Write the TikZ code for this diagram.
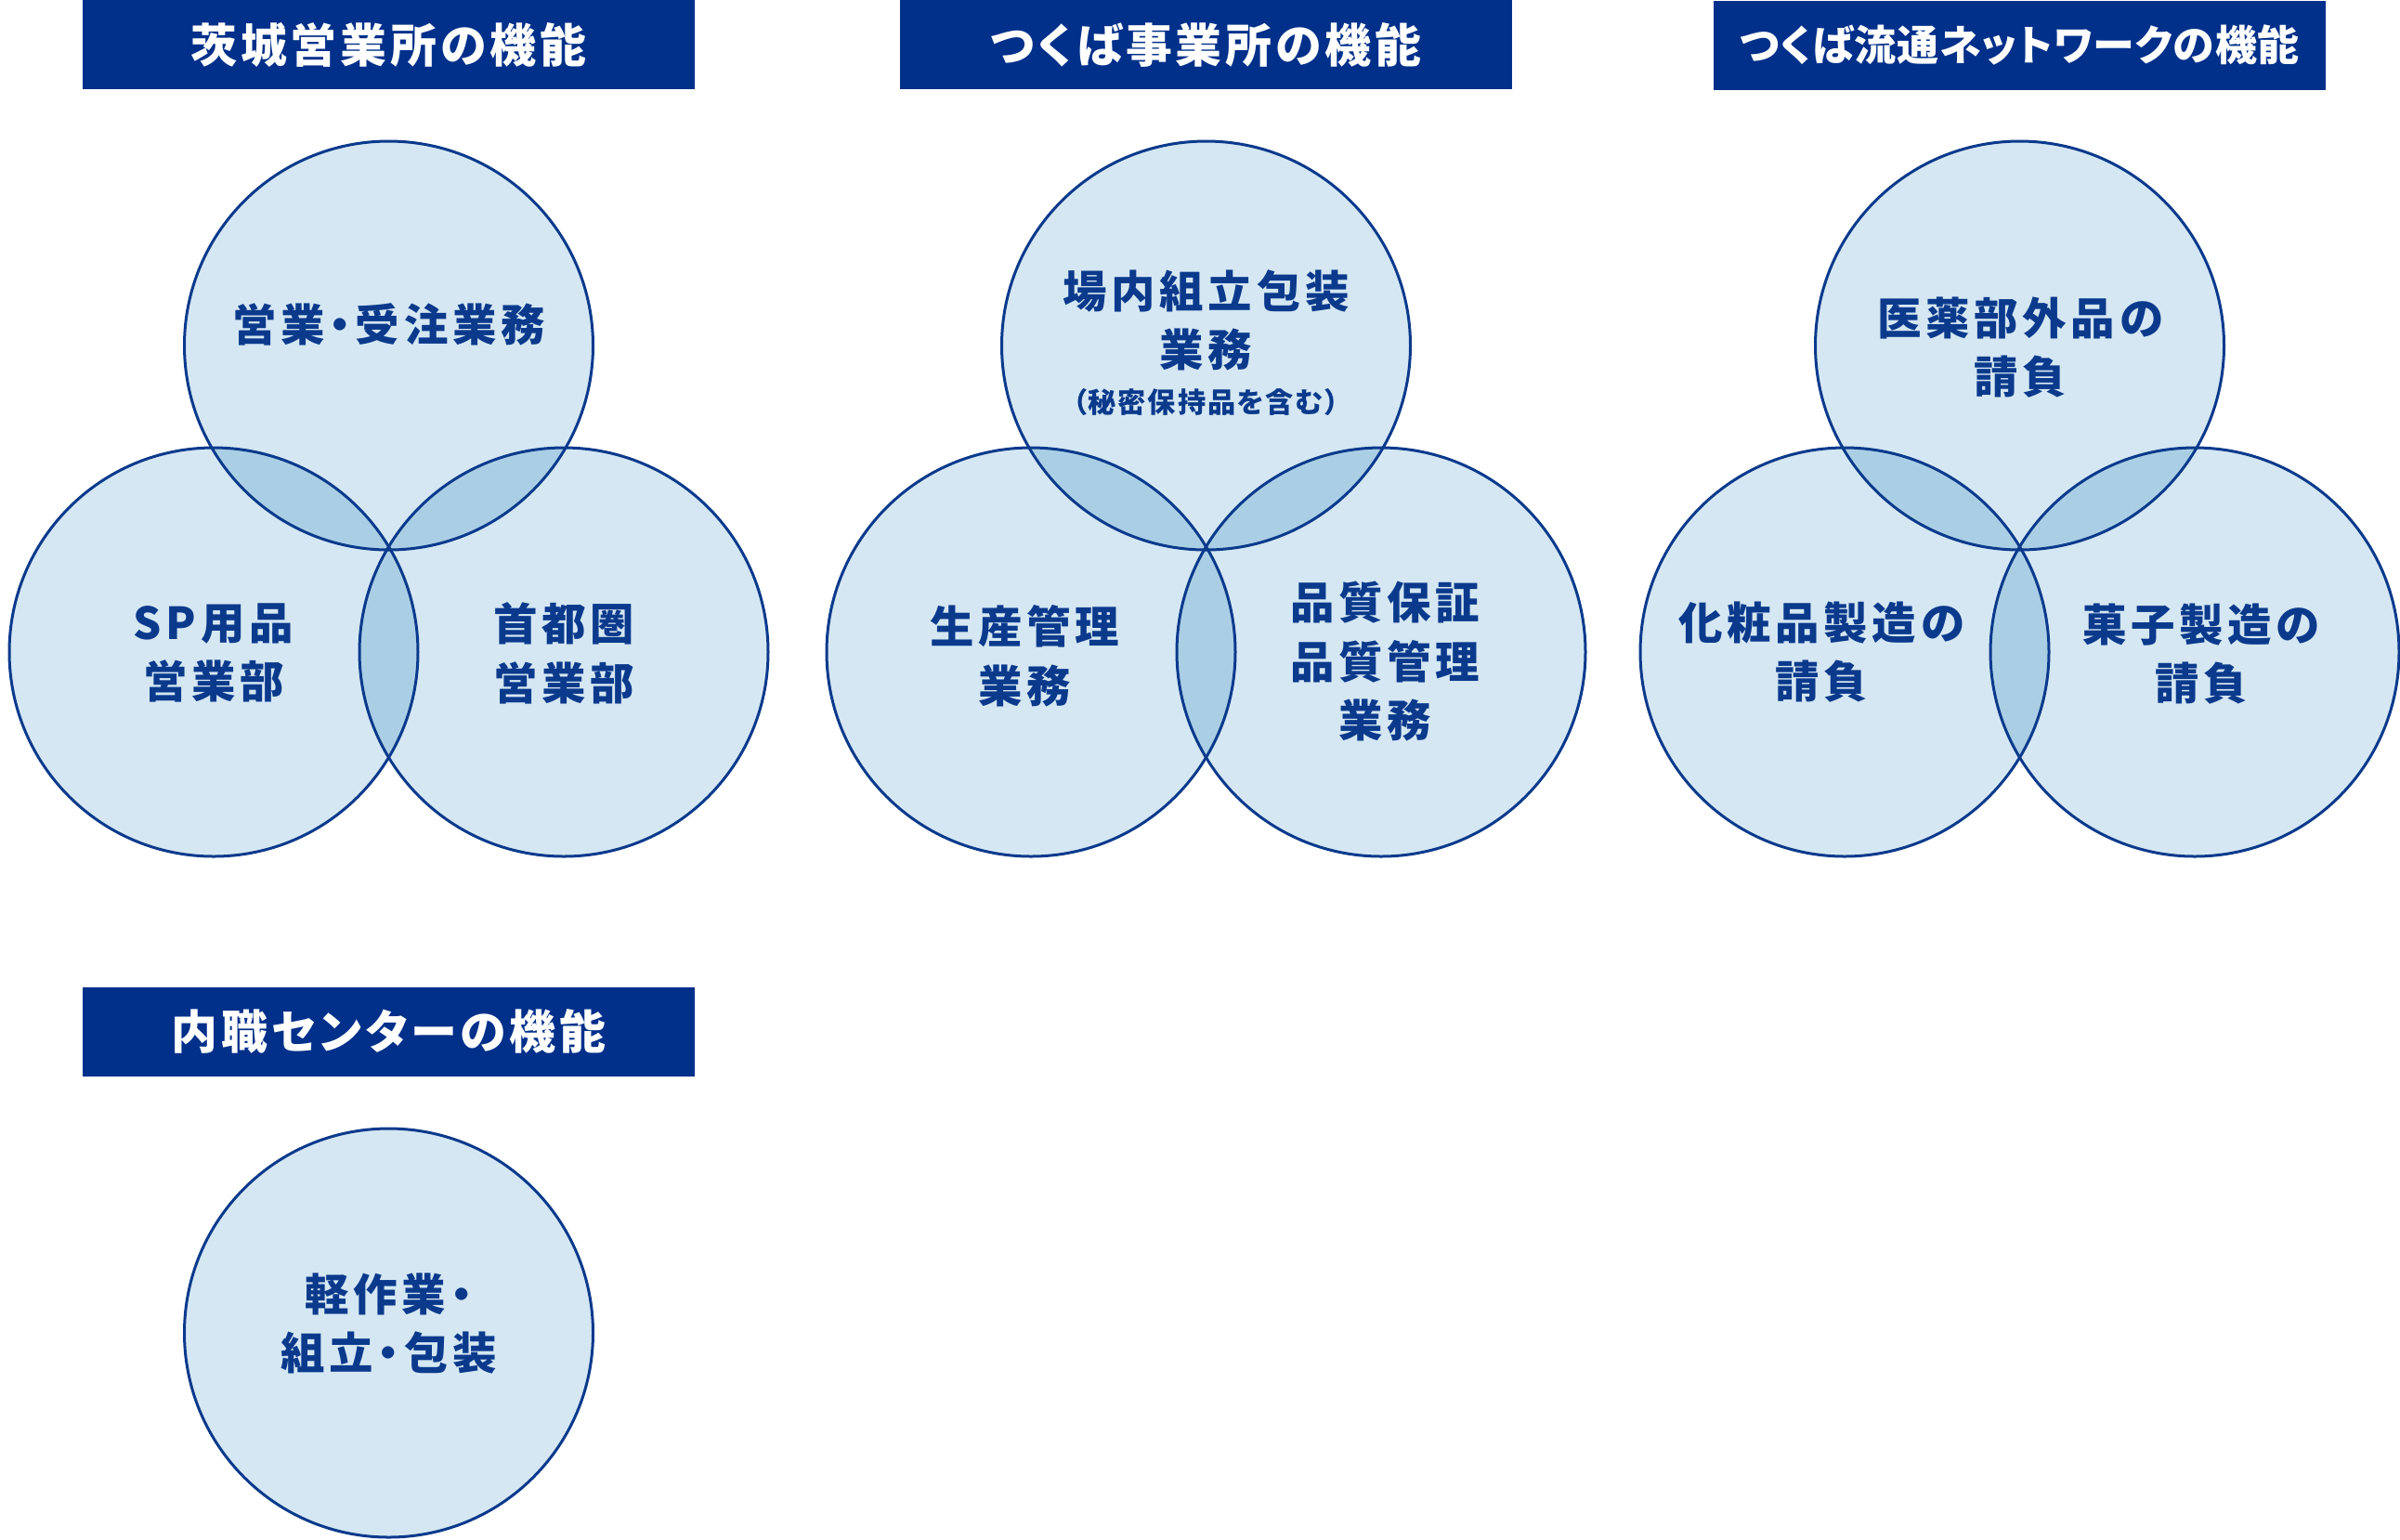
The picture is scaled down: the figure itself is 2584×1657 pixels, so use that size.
\documentclass[tikz,border=0pt]{standalone}
\usepackage{fontspec}
\newfontfamily\jpfont{Noto Sans CJK JP}[RawFeature=+palt]
\usetikzlibrary{positioning}
\definecolor{navy}{HTML}{00308A}
\definecolor{ink}{HTML}{0B3A8C}
\definecolor{venlight}{HTML}{D4E7F3}
\definecolor{venmid}{HTML}{AACFE5}

\begin{document}
\begin{tikzpicture}[
  x=0.1mm, y=-0.1mm,
  bar/.style={fill=navy, minimum width=65.9mm, minimum height=9.6mm, inner sep=0pt, text=white,
    font=\jpfont\bfseries\fontsize{14.2pt}{17pt}\selectfont\addfontfeature{LetterSpace=8}},
  tightbar/.style={bar, font=\jpfont\bfseries\fontsize{12.8pt}{16pt}\selectfont\addfontfeature{LetterSpace=2}},
  circ/.style={circle, fill=venlight, minimum size=44mm, inner sep=0pt},
  rim/.style={draw=ink, line width=0.3mm},
  lbl/.style={text=ink, align=center, inner sep=0pt,
    font=\jpfont\bfseries\fontsize{13.5pt}{18.1pt}\selectfont\addfontfeature{LetterSpace=10}},
  note/.style={text=ink, inner sep=0pt,
    font=\jpfont\bfseries\fontsize{8.6pt}{10pt}\selectfont\addfontfeature{LetterSpace=6}}
]
\useasboundingbox (0,0) rectangle (2584,1657);

% title bars
\node[bar] (ta) at (418.5,48) {茨城営業所の機能};
\node[bar] (tb) at (1298.5,48) {つくば事業所の機能};
\node[tightbar] (tc) at (2174.5,48.5) {つくば流通ネットワークの機能};
\node[bar] (td) at (418.5,1110.5) {内職センターの機能};

% venn circles: 1 top, 2 left, 3 right
\foreach \p/\x in {a/418.5, b/1298.5, c/2174.5}{
  \node[circ] (\p1) at (\x,372) {};
  \node[circ] (\p2) at (\x-188.5,702) {};
  \node[circ] (\p3) at (\x+188.5,702) {};
}
\node[circ] (d1) at (418.5,1435) {};

% overlaps, then outlines
\foreach \p in {a,b,c}{
  \foreach \u/\v in {1/2, 1/3, 2/3}{
    \begin{scope}
      \clip (\p\u.center) circle[radius=22mm];
      \fill[venmid] (\p\v.center) circle[radius=22mm];
    \end{scope}
  }
  \foreach \u in {1,2,3}{\draw[rim] (\p\u.center) circle[radius=22mm];}
}
\draw[rim] (d1.center) circle[radius=22mm];

% labels
\node[lbl] (la1) at (418.5,349) {営業・受注業務};
\node[lbl] (la2) at (230,703) {SP用品\\営業部};
\node[lbl] (la3) at (607,703) {首都圏\\営業部};
\node[lbl] (lb1) at (1298.5,345) {場内組立包装\\業務};
\node[note] (lb1n) at (1298.5,433) {（秘密保持品を含む）};
\node[lbl] (lb2) at (1103,706) {生産管理\\業務};
\node[lbl] (lb3) at (1491,712) {品質保証\\品質管理\\業務};
\node[lbl] (lc1) at (2175,374) {医薬部外品の\\請負};
\node[lbl] (lc2) at (1961,702) {化粧品製造の\\請負};
\node[lbl] (lc3) at (2370,704) {菓子製造の\\請負};
\node[lbl] (ld1) at (418.5,1425) {軽作業・\\組立・包装};
\end{tikzpicture}
\end{document}
